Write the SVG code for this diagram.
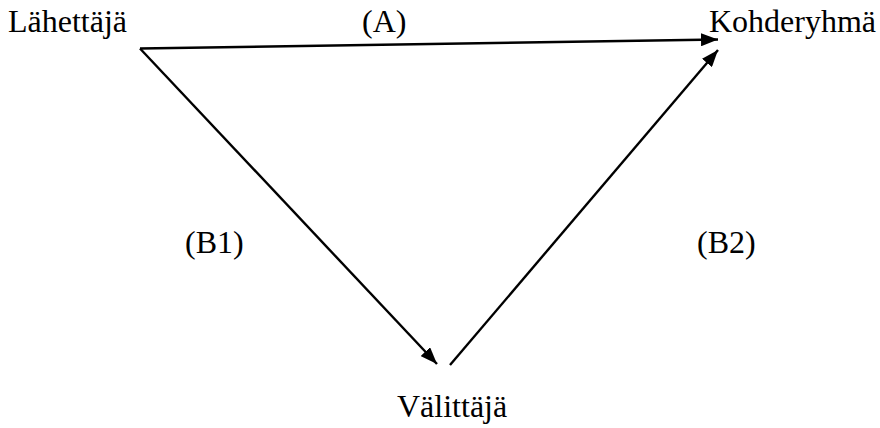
<svg xmlns="http://www.w3.org/2000/svg" width="880" height="428" viewBox="0 0 880 428">
<defs>
<style>
text{font-family:'Liberation Serif','Times New Roman',Tinos,'DejaVu Serif',serif;font-size:32px;fill:#000}
.c{stroke:#000;stroke-width:2.4;fill:none}
</style>
<marker id="ah" markerWidth="17" markerHeight="13" refX="17" refY="6.5" orient="auto" markerUnits="userSpaceOnUse">
<path d="M0,0 L17,6.5 L0,13 Z" fill="#000"/>
</marker>
</defs>
<rect width="880" height="428" fill="#fff"/>
<g id="connectors">
<path class="c" d="M140,48.5 L718,39.5" marker-end="url(#ah)"/>
<path class="c" d="M140,48.5 L437,364" marker-end="url(#ah)"/>
<path class="c" d="M450,365 L718,50" marker-end="url(#ah)"/>
</g>
<g id="lahettaja"><text x="8" y="32">Lähettäjä</text></g>
<g id="kohderyhma"><text x="709" y="32">Kohderyhmä</text></g>
<g id="valittaja"><text x="397" y="417">Välittäjä</text></g>
<g id="labelA"><text x="362" y="32">(A)</text></g>
<g id="labelB1"><text x="185" y="253">(B1)</text></g>
<g id="labelB2"><text x="697" y="253">(B2)</text></g>
</svg>
